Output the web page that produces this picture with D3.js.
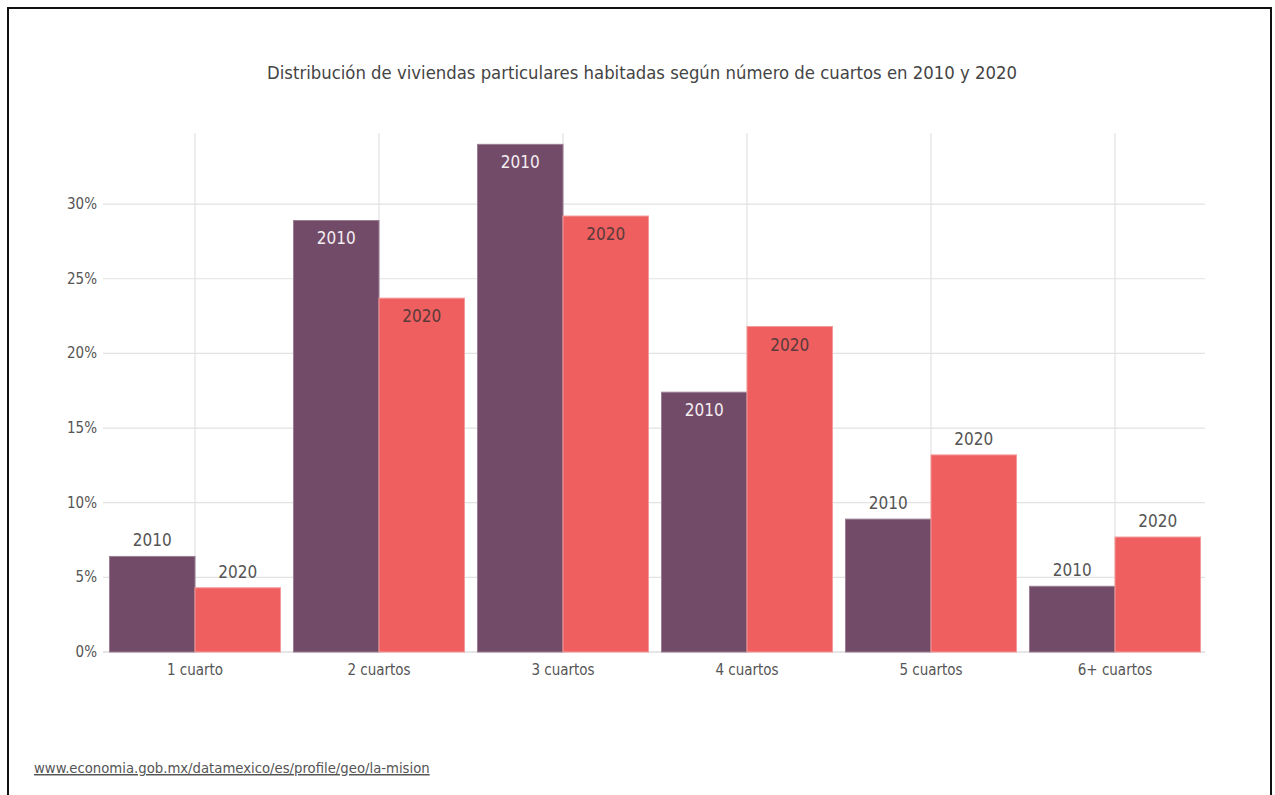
<!DOCTYPE html>
<html>
<head>
<meta charset="utf-8">
<script src="https://cdn.jsdelivr.net/npm/d3@7"></script>
<style>
  body { margin: 0; background: #fff; }
  svg { display: block; }
  text { font-family: "DejaVu Sans Condensed", "DejaVu Sans", sans-serif; font-stretch: condensed; }
</style>
</head>
<body>
<div id="chart"></div>
<script>
const categories = ['1 cuarto', '2 cuartos', '3 cuartos', '4 cuartos', '5 cuartos', '6+ cuartos'];
const years = ['2010', '2020'];
const values2010 = [6.4, 28.9, 34.0, 17.4, 8.9, 4.4];
const values2020 = [4.3, 23.7, 29.2, 21.8, 13.2, 7.7];
const yTicks = [0, 5, 10, 15, 20, 25, 30];
const colors = { '2010': '#724b69', '2020': '#ef5f5f' };

const width = 1275;
const height = 795;

const svg = d3.select('#chart')
	.append('svg')
	.attr('width', width)
	.attr('height', height);

// frame
svg.append('rect')
	.attr('x', 8).attr('y', 8)
	.attr('width', 1263).attr('height', 800)
	.attr('fill', 'none')
	.attr('stroke', '#111')
	.attr('stroke-width', 2);

// fit a text element to a given pixel width by adjusting its font size
function fitWidth(sel, target) {
	const fs = +sel.attr('font-size');
	const w = sel.node().getComputedTextLength();
	sel.attr('font-size', (fs * target) / w);
}

const title = svg.append('text')
	.attr('x', 642)
	.attr('y', 79)
	.attr('text-anchor', 'middle')
	.attr('font-size', 19)
	.attr('fill', '#444')
	.text('Distribución de viviendas particulares habitadas según número de cuartos en 2010 y 2020');
fitWidth(title, 750);

const x = d3.scaleBand()
	.domain(categories)
	.range([103, 1207]);

const xInner = d3.scaleBand()
	.domain(years)
	.range([0, x.bandwidth()])
	.paddingOuter(0.076);

const y = d3.scaleLinear()
	.domain([0, 34.76])
	.range([652, 133]);

const g = svg.append('g');

// horizontal grid
g.selectAll('.hgrid')
	.data(yTicks)
	.enter()
	.append('line')
	.attr('x1', 103).attr('x2', 1205)
	.attr('y1', (d) => y(d)).attr('y2', (d) => y(d))
	.attr('stroke', (d) => (d === 0 ? '#ccc' : '#e2e2e2'))
	.attr('stroke-width', 1.2);

// vertical grid at category centres
g.selectAll('.vgrid')
	.data(categories)
	.enter()
	.append('line')
	.attr('x1', (d) => x(d) + x.bandwidth() / 2)
	.attr('x2', (d) => x(d) + x.bandwidth() / 2)
	.attr('y1', 133).attr('y2', 652)
	.attr('stroke', '#e2e2e2')
	.attr('stroke-width', 1.2);

// y tick labels
g.selectAll('.ytick')
	.data(yTicks)
	.enter()
	.append('text')
	.attr('x', 97)
	.attr('y', (d) => y(d) + 5)
	.attr('text-anchor', 'end')
	.attr('font-size', 15)
	.attr('fill', '#555')
	.text((d) => d + '%');

// x labels
g.selectAll('.xtick')
	.data(categories)
	.enter()
	.append('text')
	.attr('x', (d) => x(d) + x.bandwidth() / 2)
	.attr('y', 675)
	.attr('text-anchor', 'middle')
	.attr('font-size', 15)
	.attr('fill', '#555')
	.text((d) => d);

const rows = [];
categories.forEach((c, i) => {
	rows.push({ cat: c, year: '2010', value: values2010[i] });
	rows.push({ cat: c, year: '2020', value: values2020[i] });
});

const bars = g.selectAll('.bar')
	.data(rows)
	.enter()
	.append('g')
	.attr('class', 'bar');

bars.append('rect')
	.attr('x', (d) => x(d.cat) + xInner(d.year))
	.attr('y', (d) => y(d.value))
	.attr('width', xInner.bandwidth())
	.attr('height', (d) => y(0) - y(d.value))
	.attr('fill', (d) => colors[d.year])
	.attr('stroke', (d) => (d.year === '2010' ? '#9a7f93' : '#f59a9a'))
	.attr('stroke-width', 1);

// labels: inside for tall bars, above for short ones
bars.append('text')
	.attr('x', (d) => x(d.cat) + xInner(d.year) + xInner.bandwidth() / 2)
	.attr('y', (d) => (d.value > 15 ? y(d.value) + 24 : y(d.value) - 10))
	.attr('text-anchor', 'middle')
	.attr('font-size', 17)
	.attr('fill', (d) => {
		if (d.value <= 15) return '#555';
		return d.year === '2010' ? '#f4eef2' : '#5a3a3a';
	})
	.text((d) => d.year);

const src = svg.append('text')
	.attr('x', 34)
	.attr('y', 773)
	.attr('font-size', 14)
	.attr('fill', '#555')
	.attr('text-decoration', 'underline')
	.text('www.economia.gob.mx/datamexico/es/profile/geo/la-mision');
fitWidth(src, 396);
</script>
</body>
</html>
